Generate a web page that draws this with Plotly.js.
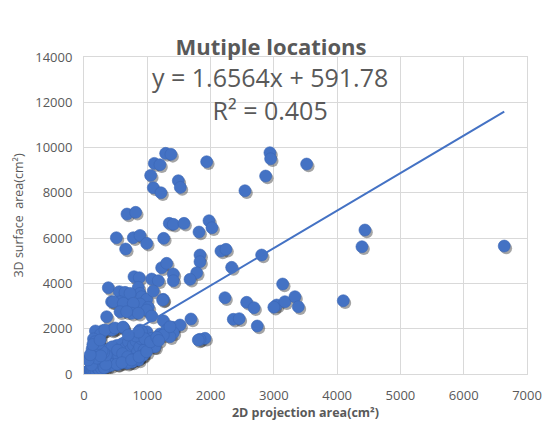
<!DOCTYPE html>
<html>
<head>
<meta charset="utf-8">
<script src="https://cdn.plot.ly/plotly-3.0.1.min.js"></script>
<style>html,body{margin:0;padding:0;background:#fff;}#chart{width:542px;height:421px;}</style>
</head>
<body>
<div id="chart"></div>
<script>
// Series 1 — 2D projection area (cm²) / 3D surface area (cm²)
const projA = [
  1290,1374,1111,1200,1938,1053,1490,1522,1095,1216,2543,2870,2938,2949,
  679,816,511,779,885,990,658,1259,1348,1411,1580,1817,1975,2022,2164,2243,
  1833,1833,1780,1675,2333,2807,1227,1306,1411,1411,1069,1174,790,874,384,
  3518,4439,4392,6640,3139,3044,3175,3333,3386,4097,3000,
  2570,2686,2227,2359,2453,2738,1912,
  558,648,858,885,911,990,1095,1253,436,569,727,885,1016,
  463,621,727,779,990,1242,358,753,858,1069,569,674,1253,
  295,463,621,885,990,1200,1306,1411,1517,1690,1411,1358,1253,1833,1095,1069,
  779,674,437,911,1122,1358,1806,
  366,374,388,397,405,423,441,458,476,503,518,537,562,581,604,622,641,660,683,702,721,744,
  763,781,805,822,846,861,880,903,925,948,390,470,550,630,710,
  180,260,445,530,610,690,770,850,930,
  330,490,616,520,600,753,870,990,820,960,1050,1150,1180,860,700
];
const surfA = [
  9744,9700,9302,9242,9374,8772,8535,8242,8226,8004,8093,8742,9771,9506,
  7064,7139,6018,6018,6121,5770,5519,5991,6653,6609,6653,6269,6768,6459,5430,5505,
  5254,4958,4472,4181,4709,5254,4693,4887,4415,4119,4194,4119,4296,4252,3810,
  9272,6358,5620,5651,3974,3046,3192,3413,2971,3236,2950,
  3165,2927,3369,2415,2442,2119,1576,
  3634,3605,3826,3560,3413,3296,3664,3296,3192,3192,3192,3090,2943,
  3192,3120,3560,3120,2826,3267,2530,2680,2680,2561,2751,2751,2353,
  1912,1973,2044,1942,1868,1766,1942,2060,2163,2428,1823,1647,1722,1532,1205,1576,
  693,914,1942,1868,1205,2088,1501,
  330,920,470,590,1020,380,760,1150,520,880,1260,430,1010,640,1330,560,940,1180,480,1420,700,1090,
  530,1280,760,1450,990,620,1190,1560,850,1050,1100,950,800,650,520,
  1900,1750,1200,1050,900,760,640,700,820,
  1942,2030,2075,430,500,618,760,985,1680,1560,1420,1620,1480,1850,1720
];
// Series 2 — the dense cluster near the origin
const projB = [
  20,32,41,48,57,66,75,83,92,104,112,121,133,142,150,163,171,182,190,203,
  214,222,236,244,255,268,277,289,298,312,321,334,345,352,
  150,230,310,120,205,285,174,128,196,262,66,98,230,140,253
];
const surfB = [
  45,62,38,95,70,128,55,160,92,210,120,188,250,105,320,148,290,410,140,380,
  260,470,195,520,330,610,240,690,380,560,270,760,430,840,
  1550,1400,950,400,700,1000,1426,1100,1250,800,620,850,1350,1300,1501
];
const slope = 1.6564;
const intercept = 591.78;
const titleText = "Mutiple locations";
const eqText = "y = 1.6564x + 591.78";
const r2Text = "R² = 0.405";
const xTitle = "2D projection area(cm²)";
const yTitle = "3D surface  area(cm²)";

const allX = projA.concat(projB), allY = surfA.concat(surfB);
const xMin = Math.min(...allX), xMax = Math.max(...allX);
const trendX = [xMin, xMax];
const trendY = trendX.map(v => slope * v + intercept);

const blue = '#4472C4';
const txt = '#595959';
const grid = '#d9d9d9';
const fam = 'Open Sans, Arial, sans-serif';
const mk = {size: 12, color: blue, line: {width: 0.6, color: '#3b66b5'}};

// shadow layer on the base (hidden) axes, offset a couple of pixels down-right
const shadow = {
  x: allX, y: allY, type: 'scatter', mode: 'markers',
  xaxis: 'x', yaxis: 'y',
  marker: {size: 12, color: 'rgba(30,30,30,0.4)', line: {width: 0}},
  hoverinfo: 'skip'
};
const ptsA = {x: projA, y: surfA, type: 'scatter', mode: 'markers', xaxis: 'x2', yaxis: 'y2', marker: mk};
const trend = {
  x: trendX, y: trendY, type: 'scatter', mode: 'lines',
  xaxis: 'x2', yaxis: 'y2',
  line: {color: blue, width: 2}
};
const ptsB = {x: projB, y: surfB, type: 'scatter', mode: 'markers', xaxis: 'x2', yaxis: 'y2', marker: mk};

const axBase = {
  showgrid: true, gridcolor: grid, gridwidth: 1, zeroline: false,
  showline: true, linecolor: grid, linewidth: 1, mirror: true,
  ticks: 'outside', tickcolor: 'rgba(0,0,0,0)', tickformat: 'd',
  tickfont: {family: fam, size: 13, color: txt}
};

const layout = {
  width: 542, height: 421,
  margin: {l: 84, r: 15, t: 57, b: 47},
  paper_bgcolor: '#fff', plot_bgcolor: '#fff',
  showlegend: false,
  title: {text: '<b>' + titleText + '</b>', x: 0.5, xanchor: 'center', y: 0.888, yanchor: 'middle',
          font: {family: fam, size: 22, color: txt}},
  xaxis: {range: [-30, 6970], visible: false, showgrid: false, zeroline: false},
  yaxis: {range: [100, 14100], visible: false, showgrid: false, zeroline: false},
  xaxis2: Object.assign({}, axBase, {overlaying: 'x', anchor: 'y2', side: 'bottom',
    range: [0, 7000], dtick: 1000, ticklen: 9,
    title: {text: '<b>' + xTitle + '</b>', standoff: 4,
            font: {family: fam, size: 12.5, color: txt}}}),
  yaxis2: Object.assign({}, axBase, {overlaying: 'y', anchor: 'x2', side: 'left',
    range: [0, 14000], dtick: 2000, ticklen: 8,
    title: {text: yTitle, standoff: 8,
            font: {family: fam, size: 12.5, color: txt}}}),
  annotations: [
    {xref: 'paper', yref: 'paper', x: 0.42, y: 0.886, xanchor: 'center', yanchor: 'middle',
     text: eqText + '<br>' + r2Text, align: 'center', showarrow: false,
     font: {family: fam, size: 25, color: txt}}
  ]
};

Plotly.newPlot('chart', [shadow, ptsA, trend, ptsB], layout, {displayModeBar: false, staticPlot: true});
</script>
</body>
</html>
